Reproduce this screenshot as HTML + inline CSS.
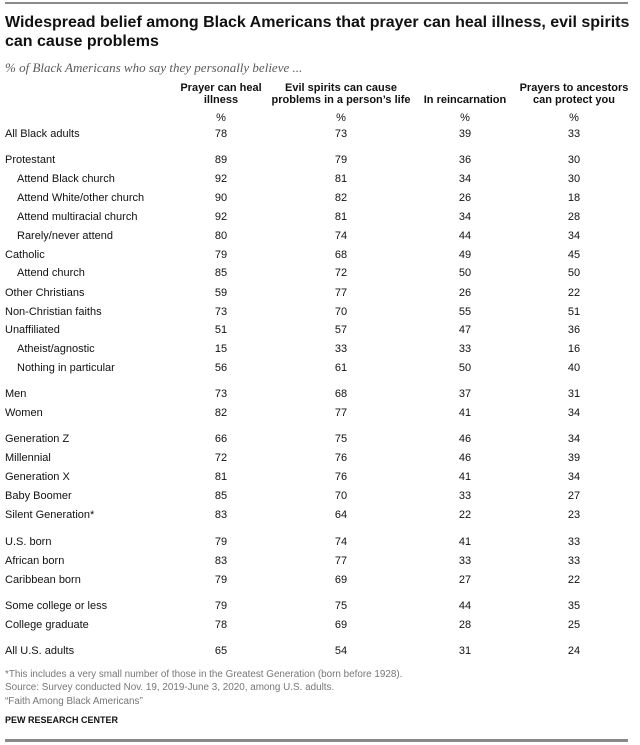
<!DOCTYPE html>
<html><head><meta charset="utf-8">
<style>
html,body{margin:0;padding:0;background:#fff;}
body{width:640px;height:745px;position:relative;overflow:hidden;font-family:"Liberation Sans",Arial,sans-serif;color:#111;}
.a{position:absolute;white-space:nowrap;}
.rule{position:absolute;left:5px;width:623px;background:#8a8a8a;}
.title{left:5px;top:13px;font-size:16px;font-weight:bold;line-height:19px;color:#111;}
.sub{left:5px;top:60px;font-family:"Liberation Serif",Georgia,serif;font-style:italic;font-size:13px;line-height:16px;color:#5a5a5a;}
.h{font-size:11px;font-weight:bold;line-height:12px;text-align:center;width:160px;color:#111;}
.row{position:absolute;left:0;width:640px;height:18px;line-height:18px;font-size:11px;}
.row span{position:absolute;top:0;}
.row .l{left:5px;}
.row .l.i{left:17px;}
.row .v{width:60px;text-align:center;}
.c1{left:191px;}.c2{left:311px;}.c3{left:435px;}.c4{left:544px;}
.fn{left:5px;font-size:9.9px;line-height:14px;color:#777;}
.pew{left:5px;font-size:9px;font-weight:bold;line-height:14px;color:#111;}
</style></head><body>
<div class="rule" style="top:2px;height:2px;"></div>
<div class="a title">Widespread belief among Black Americans that prayer can heal illness, evil spirits<br>can cause problems</div>
<div class="a sub">% of Black Americans who say they personally believe ...</div>

<div class="a h" style="left:141px;top:82px;">Prayer can heal<br>illness</div>
<div class="a h" style="left:261px;top:82px;">Evil spirits can cause<br>problems in a person’s life</div>
<div class="a h" style="left:385px;top:94px;">In reincarnation</div>
<div class="a h" style="left:494px;top:82px;">Prayers to ancestors<br>can protect you</div>

<div class="row" style="top:109px;"><span class="v c1">%</span><span class="v c2">%</span><span class="v c3">%</span><span class="v c4">%</span></div>

<div class="row" style="top:125px;"><span class="l">All Black adults</span><span class="v c1">78</span><span class="v c2">73</span><span class="v c3">39</span><span class="v c4">33</span></div>
<div class="row" style="top:151px;"><span class="l">Protestant</span><span class="v c1">89</span><span class="v c2">79</span><span class="v c3">36</span><span class="v c4">30</span></div>
<div class="row" style="top:170px;"><span class="l i">Attend Black church</span><span class="v c1">92</span><span class="v c2">81</span><span class="v c3">34</span><span class="v c4">30</span></div>
<div class="row" style="top:189px;"><span class="l i">Attend White/other church</span><span class="v c1">90</span><span class="v c2">82</span><span class="v c3">26</span><span class="v c4">18</span></div>
<div class="row" style="top:208px;"><span class="l i">Attend multiracial church</span><span class="v c1">92</span><span class="v c2">81</span><span class="v c3">34</span><span class="v c4">28</span></div>
<div class="row" style="top:227px;"><span class="l i">Rarely/never attend</span><span class="v c1">80</span><span class="v c2">74</span><span class="v c3">44</span><span class="v c4">34</span></div>
<div class="row" style="top:246px;"><span class="l">Catholic</span><span class="v c1">79</span><span class="v c2">68</span><span class="v c3">49</span><span class="v c4">45</span></div>
<div class="row" style="top:264px;"><span class="l i">Attend church</span><span class="v c1">85</span><span class="v c2">72</span><span class="v c3">50</span><span class="v c4">50</span></div>
<div class="row" style="top:284px;"><span class="l">Other Christians</span><span class="v c1">59</span><span class="v c2">77</span><span class="v c3">26</span><span class="v c4">22</span></div>
<div class="row" style="top:303px;"><span class="l">Non-Christian faiths</span><span class="v c1">73</span><span class="v c2">70</span><span class="v c3">55</span><span class="v c4">51</span></div>
<div class="row" style="top:321px;"><span class="l">Unaffiliated</span><span class="v c1">51</span><span class="v c2">57</span><span class="v c3">47</span><span class="v c4">36</span></div>
<div class="row" style="top:340px;"><span class="l i">Atheist/agnostic</span><span class="v c1">15</span><span class="v c2">33</span><span class="v c3">33</span><span class="v c4">16</span></div>
<div class="row" style="top:359px;"><span class="l i">Nothing in particular</span><span class="v c1">56</span><span class="v c2">61</span><span class="v c3">50</span><span class="v c4">40</span></div>
<div class="row" style="top:385px;"><span class="l">Men</span><span class="v c1">73</span><span class="v c2">68</span><span class="v c3">37</span><span class="v c4">31</span></div>
<div class="row" style="top:404px;"><span class="l">Women</span><span class="v c1">82</span><span class="v c2">77</span><span class="v c3">41</span><span class="v c4">34</span></div>
<div class="row" style="top:430px;"><span class="l">Generation Z</span><span class="v c1">66</span><span class="v c2">75</span><span class="v c3">46</span><span class="v c4">34</span></div>
<div class="row" style="top:449px;"><span class="l">Millennial</span><span class="v c1">72</span><span class="v c2">76</span><span class="v c3">46</span><span class="v c4">39</span></div>
<div class="row" style="top:468px;"><span class="l">Generation X</span><span class="v c1">81</span><span class="v c2">76</span><span class="v c3">41</span><span class="v c4">34</span></div>
<div class="row" style="top:487px;"><span class="l">Baby Boomer</span><span class="v c1">85</span><span class="v c2">70</span><span class="v c3">33</span><span class="v c4">27</span></div>
<div class="row" style="top:506px;"><span class="l">Silent Generation*</span><span class="v c1">83</span><span class="v c2">64</span><span class="v c3">22</span><span class="v c4">23</span></div>
<div class="row" style="top:533px;"><span class="l">U.S. born</span><span class="v c1">79</span><span class="v c2">74</span><span class="v c3">41</span><span class="v c4">33</span></div>
<div class="row" style="top:552px;"><span class="l">African born</span><span class="v c1">83</span><span class="v c2">77</span><span class="v c3">33</span><span class="v c4">33</span></div>
<div class="row" style="top:571px;"><span class="l">Caribbean born</span><span class="v c1">79</span><span class="v c2">69</span><span class="v c3">27</span><span class="v c4">22</span></div>
<div class="row" style="top:597px;"><span class="l">Some college or less</span><span class="v c1">79</span><span class="v c2">75</span><span class="v c3">44</span><span class="v c4">35</span></div>
<div class="row" style="top:616px;"><span class="l">College graduate</span><span class="v c1">78</span><span class="v c2">69</span><span class="v c3">28</span><span class="v c4">25</span></div>
<div class="row" style="top:642px;"><span class="l">All U.S. adults</span><span class="v c1">65</span><span class="v c2">54</span><span class="v c3">31</span><span class="v c4">24</span></div>

<div class="a fn" style="top:668px;">*This includes a very small number of those in the Greatest Generation (born before 1928).</div>
<div class="a fn" style="top:681px;">Source: Survey conducted Nov. 19, 2019-June 3, 2020, among U.S. adults.</div>
<div class="a fn" style="top:695px;">“Faith Among Black Americans”</div>
<div class="a pew" style="top:713px;">PEW RESEARCH CENTER</div>
<div class="rule" style="top:739px;height:3px;"></div>
</body></html>
